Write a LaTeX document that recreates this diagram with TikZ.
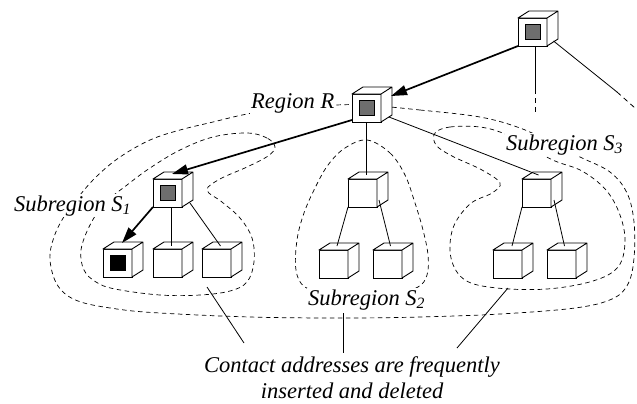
\documentclass[tikz,border=0pt]{standalone}
\usepackage{fontspec}
\setmainfont{Liberation Serif}
\usetikzlibrary{arrows.meta,calc}
\definecolor{coregray}{HTML}{6E6E6E}

% top and side faces of a cube whose front face is the node #1
\newcommand\cubeback[1]{%
  \filldraw[fill=white, line width=0.9bp, line join=round]
    (#1.north west) -- ++(11,-7) -- ++(29,0) -- ++(0,28) -- (#1.south east) -- (#1.north east) -- cycle
    (#1.north east) -- ++(11,-7);}

\begin{document}
\begin{tikzpicture}[x=1bp,y=-1bp,
  cube/.style={draw, fill=white, line width=0.9bp, minimum width=29bp, minimum height=28bp,
               inner sep=0pt, outer sep=0pt},
  core/.style={draw, fill=coregray, line width=0.8bp, minimum size=15bp, inner sep=0pt, outer sep=0pt},
  hot/.style={core, fill=black},
  boundary/.style={dash pattern=on 4.5bp off 3.5bp, line width=0.7bp},
  link/.style={line width=0.8bp},
  faded/.style={link, dash pattern=on 5bp off 4bp},
  route/.style={line width=1.7bp, -{Triangle[length=16bp,width=10bp]}},
  lbl/.style={font={\fontsize{22.5bp}{26bp}\selectfont\itshape}, inner sep=1bp, fill=white}
]
\useasboundingbox (0,0) rectangle (637,403);

% ---- region boundaries ----
% region R
\draw[boundary] plot[smooth cycle, tension=0.6] coordinates {
  (366,105) (420,110) (480,117) (520,128) (550,142) (580,157) (610,172) (627,193)
  (634,222) (634,258) (628,284) (612,299) (575,308) (500,314) (420,317) (343,318)
  (250,317) (160,313) (117,309) (78,301) (58,286) (50,260) (54,237) (65,215)
  (80,195) (97,176) (120,157) (150,140) (180,130) (213,122) (247,114) (290,107) (335,105)};
% subregion S1
\draw[boundary] plot[smooth cycle, tension=0.6] coordinates {
  (275,147) (267,138) (247,133) (213,137) (180,150) (150,168) (127,185) (105,203)
  (90,225) (81,250) (84,270) (96,282) (115,289) (160,295) (200,295) (230,291)
  (247,282) (254,262) (252,238) (240,218) (222,202) (207,190) (220,179) (247,167) (268,156)};
% subregion S2
\draw[boundary] plot[smooth cycle, tension=0.6] coordinates {
  (367,140) (390,153) (405,175) (415,203) (423,230) (428,255) (427,275) (418,287)
  (395,293) (365,295) (330,293) (305,287) (296,270) (297,240) (304,213) (315,188)
  (328,165) (345,148)};
% subregion S3
\draw[boundary] plot[smooth cycle, tension=0.6] coordinates {
  (435,133) (450,127) (480,127) (505,134) (530,148) (555,161) (582,171) (606,190)
  (620,215) (625,242) (618,267) (593,281) (547,289) (497,288) (465,280) (451,258)
  (453,228) (470,204) (492,193) (500,183) (482,170) (452,156) (436,145)};

% ---- labels ----
\node[lbl, anchor=base west] (labR)  at (250,108) {Region R};
\node[lbl, anchor=base west] (labS1) at (13,211)  {Subregion S\textsubscript{1}};
\node[lbl, anchor=base west] (labS2) at (307,305) {Subregion S\textsubscript{2}};
\node[lbl, anchor=base west] (labS3) at (505,150) {Subregion S\textsubscript{3}};
\node[lbl, fill=none, anchor=base] (note1) at (352,372) {Contact addresses are frequently};
\node[lbl, fill=none, anchor=base] (note2) at (352,398) {inserted and deleted};

% ---- cubes ----
\foreach \n/\x/\y in {Top/532.5/32, R/366.5/108, S1/167.5/193, B/117.5/263, S1b/167.5/263,
    S1c/216.5/263, S2/362.5/193, S2a/333.5/264, S2b/387.5/264, S3/536.5/193,
    S3a/507.5/264, S3b/561.5/264}{
  \node[cube] (\n) at (\x,\y) {};
  \cubeback{\n}
}
\node[core] (Topc) at (Top) {};
\node[core] (Rc) at (R) {};
\node[core] (S1c0) at (S1) {};
\node[hot] (Bc) at (B) {};

% ---- connectors ----
\draw[route] (Top.south west) -- ($(R.north east)+(10,2)$);
\draw[route] ($(R.south west)+(0,-2)$) -- ($(S1.north)+(4.5,-5)$);
\draw[route] (S1.south west) -- ($(B.north)+(4.5,-6)$);

% links leading on to the rest of the hierarchy
\coordinate (upA) at ($(Top.south)+(3,43)$);
\coordinate (upAend) at ($(Top.south)+(3,66)$);
\coordinate (upB) at (617,92);
\coordinate (upBend) at (635,108);
\draw[link] ($(Top.south)+(3,0)$) -- (upA);
\draw[faded] (upA) -- (upAend);
\draw[link] ($(Top.east)+(6.5,9)$) -- (upB);
\draw[faded] (upB) -- (upBend);

\draw[link] (R.south) -- ($(S2.north)+(4,-4)$);
\draw[link] ($(R.south east)+(8,-5)$) -- ($(S3.north)+(2,-4)$);
\draw[link] ($(S1.south)+(3.5,0)$) -- ($(S1b.north)+(3.5,-3)$);
\draw[link] ($(S1.south east)+(8,-4)$) -- ($(S1c.north)+(4,-3)$);
\draw[link] (S2.south west) -- ($(S2a.north)+(3.5,-4)$);
\draw[link] ($(S2.south east)+(2,-7)$) -- ($(S2b.north)+(3,-4)$);
\draw[link] (S3.south west) -- ($(S3a.north)+(4.5,-4)$);
\draw[link] ($(S3.south east)+(3,-7)$) -- ($(S3b.north)+(3,-4)$);

% pointers from the boundaries to the note
\coordinate (q1) at (207,287);
\coordinate (q2) at (343,313);
\coordinate (q3) at (508,288);
\coordinate (e1) at (244,343);
\coordinate (e2) at (343,353);
\coordinate (e3) at (457,348);
\draw[link] (q1) -- (e1);
\draw[link] (q2) -- (e2);
\draw[link] (q3) -- (e3);
\end{tikzpicture}
\end{document}
